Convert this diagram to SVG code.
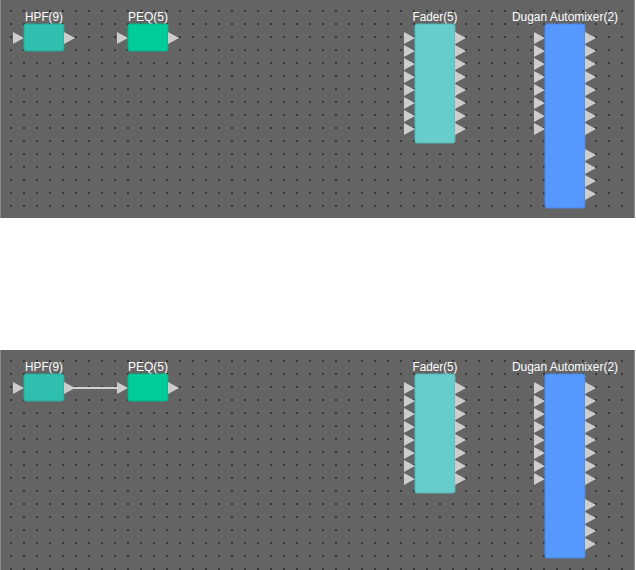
<svg xmlns="http://www.w3.org/2000/svg" width="636" height="570" viewBox="0 0 636 570">
<style>
.panel{fill:#646464}
.edge{fill:#8c8c8c}
.lbl{font-family:"Liberation Sans",Arial,sans-serif;font-size:12px;fill:#ffffff;text-anchor:middle}
.tri{fill:#cdcdcd}
.blk{stroke-width:1}
.wire{stroke:#d2d2d2;stroke-width:2;fill:none}
</style>
<defs>
<pattern id="dotsA" x="0" y="0" width="13" height="13" patternUnits="userSpaceOnUse">
<rect x="10" y="10" width="2" height="2" fill="#383838"/>
</pattern>
<pattern id="dotsB" x="0" y="350" width="13" height="13" patternUnits="userSpaceOnUse">
<rect x="10" y="10" width="2" height="2" fill="#383838"/>
</pattern>
<path id="tin" d="M0,-6 L11,0 L0,6 Z"/>
</defs>
<rect width="636" height="570" fill="#ffffff"/>

<g id="panel-top">
<rect class="panel" x="0" y="0" width="635" height="218"/>
<rect fill="url(#dotsA)" x="0" y="0" width="635" height="218"/>
<rect class="edge" x="0" y="0" width="1" height="218"/>
<rect class="edge" x="634" y="0" width="1" height="218"/>
</g>
<g id="panel-bottom">
<rect class="panel" x="0" y="350" width="635" height="220"/>
<rect fill="url(#dotsB)" x="0" y="350" width="635" height="220"/>
<rect class="edge" x="0" y="350" width="1" height="220"/>
<rect class="edge" x="634" y="350" width="1" height="220"/>
</g>

<g id="connectors">
<line class="wire" x1="72" y1="388" x2="120" y2="388"/>
</g>

<g id="hpf-top">
<text class="lbl" x="44" y="21" textLength="38" lengthAdjust="spacingAndGlyphs">HPF(9)</text>
<rect class="blk" x="24" y="24" width="40" height="27" rx="2" fill="#2fbfae" stroke="#28a898"/>
<use href="#tin" class="tri" x="13" y="38"/>
<use href="#tin" class="tri" x="64" y="38"/>
</g>
<g id="peq-top">
<text class="lbl" x="148" y="21" textLength="40" lengthAdjust="spacingAndGlyphs">PEQ(5)</text>
<rect class="blk" x="128" y="24" width="40" height="27" rx="2" fill="#00cc99" stroke="#00b386"/>
<use href="#tin" class="tri" x="117" y="38"/>
<use href="#tin" class="tri" x="168" y="38"/>
</g>
<g id="fader-top">
<text class="lbl" x="435" y="21" textLength="45" lengthAdjust="spacingAndGlyphs">Fader(5)</text>
<rect class="blk" x="415" y="24" width="40" height="119" rx="2" fill="#66cccc" stroke="#58b5b5"/>
<g class="tri">
<use href="#tin" x="404" y="38"/><use href="#tin" x="404" y="51"/><use href="#tin" x="404" y="64"/><use href="#tin" x="404" y="77"/>
<use href="#tin" x="404" y="90"/><use href="#tin" x="404" y="103"/><use href="#tin" x="404" y="116"/><use href="#tin" x="404" y="129"/>
<use href="#tin" x="455" y="38"/><use href="#tin" x="455" y="51"/><use href="#tin" x="455" y="64"/><use href="#tin" x="455" y="77"/>
<use href="#tin" x="455" y="90"/><use href="#tin" x="455" y="103"/><use href="#tin" x="455" y="116"/><use href="#tin" x="455" y="129"/>
</g>
</g>
<g id="dugan-top">
<text class="lbl" x="565" y="21" textLength="106" lengthAdjust="spacingAndGlyphs">Dugan Automixer(2)</text>
<rect class="blk" x="545" y="24" width="40" height="184" rx="2" fill="#5599ff" stroke="#4a88e6"/>
<g class="tri">
<use href="#tin" x="534" y="38"/><use href="#tin" x="534" y="51"/><use href="#tin" x="534" y="64"/><use href="#tin" x="534" y="77"/>
<use href="#tin" x="534" y="90"/><use href="#tin" x="534" y="103"/><use href="#tin" x="534" y="116"/><use href="#tin" x="534" y="129"/>
<use href="#tin" x="585" y="38"/><use href="#tin" x="585" y="51"/><use href="#tin" x="585" y="64"/><use href="#tin" x="585" y="77"/>
<use href="#tin" x="585" y="90"/><use href="#tin" x="585" y="103"/><use href="#tin" x="585" y="116"/><use href="#tin" x="585" y="129"/>
<use href="#tin" x="585" y="155"/><use href="#tin" x="585" y="168"/><use href="#tin" x="585" y="181"/><use href="#tin" x="585" y="194"/>
</g>
</g>

<g id="hpf-bottom">
<text class="lbl" x="44" y="371" textLength="38" lengthAdjust="spacingAndGlyphs">HPF(9)</text>
<rect class="blk" x="24" y="374" width="40" height="27" rx="2" fill="#2fbfae" stroke="#28a898"/>
<use href="#tin" class="tri" x="13" y="388"/>
<use href="#tin" class="tri" x="64" y="388"/>
</g>
<g id="peq-bottom">
<text class="lbl" x="148" y="371" textLength="40" lengthAdjust="spacingAndGlyphs">PEQ(5)</text>
<rect class="blk" x="128" y="374" width="40" height="27" rx="2" fill="#00cc99" stroke="#00b386"/>
<use href="#tin" class="tri" x="117" y="388"/>
<use href="#tin" class="tri" x="168" y="388"/>
</g>
<g id="fader-bottom">
<text class="lbl" x="435" y="371" textLength="45" lengthAdjust="spacingAndGlyphs">Fader(5)</text>
<rect class="blk" x="415" y="374" width="40" height="119" rx="2" fill="#66cccc" stroke="#58b5b5"/>
<g class="tri">
<use href="#tin" x="404" y="388"/><use href="#tin" x="404" y="401"/><use href="#tin" x="404" y="414"/><use href="#tin" x="404" y="427"/>
<use href="#tin" x="404" y="440"/><use href="#tin" x="404" y="453"/><use href="#tin" x="404" y="466"/><use href="#tin" x="404" y="479"/>
<use href="#tin" x="455" y="388"/><use href="#tin" x="455" y="401"/><use href="#tin" x="455" y="414"/><use href="#tin" x="455" y="427"/>
<use href="#tin" x="455" y="440"/><use href="#tin" x="455" y="453"/><use href="#tin" x="455" y="466"/><use href="#tin" x="455" y="479"/>
</g>
</g>
<g id="dugan-bottom">
<text class="lbl" x="565" y="371" textLength="106" lengthAdjust="spacingAndGlyphs">Dugan Automixer(2)</text>
<rect class="blk" x="545" y="374" width="40" height="184" rx="2" fill="#5599ff" stroke="#4a88e6"/>
<g class="tri">
<use href="#tin" x="534" y="388"/><use href="#tin" x="534" y="401"/><use href="#tin" x="534" y="414"/><use href="#tin" x="534" y="427"/>
<use href="#tin" x="534" y="440"/><use href="#tin" x="534" y="453"/><use href="#tin" x="534" y="466"/><use href="#tin" x="534" y="479"/>
<use href="#tin" x="585" y="388"/><use href="#tin" x="585" y="401"/><use href="#tin" x="585" y="414"/><use href="#tin" x="585" y="427"/>
<use href="#tin" x="585" y="440"/><use href="#tin" x="585" y="453"/><use href="#tin" x="585" y="466"/><use href="#tin" x="585" y="479"/>
<use href="#tin" x="585" y="505"/><use href="#tin" x="585" y="518"/><use href="#tin" x="585" y="531"/><use href="#tin" x="585" y="544"/>
</g>
</g>
</svg>
